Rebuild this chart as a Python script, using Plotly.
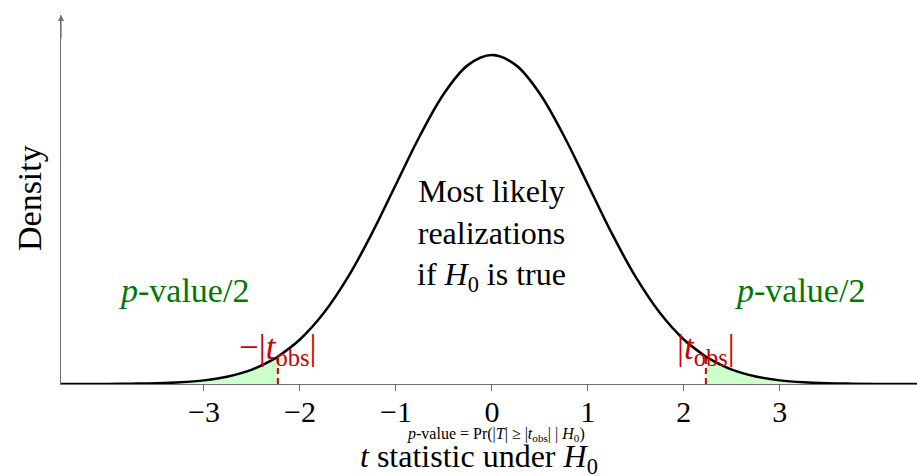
import plotly.graph_objects as go

# ---- data ----
x_vals = [-4.5, -4.25, -4.0, -3.75, -3.5, -3.25, -3.0, -2.75, -2.5, -2.25, -2.23,
          -2.0, -1.75, -1.5, -1.25, -1.0, -0.75, -0.5, -0.25, 0.0,
          0.25, 0.5, 0.75, 1.0, 1.25, 1.5, 1.75, 2.0, 2.23, 2.25, 2.5, 2.75,
          3.0, 3.25, 3.5, 3.75, 4.0, 4.25, 4.5]
density = [0.00002, 0.00005, 0.0001, 0.0004, 0.0009, 0.0020, 0.0044, 0.0091, 0.0175, 0.0317, 0.0332,
           0.0540, 0.0863, 0.1295, 0.1826, 0.2420, 0.3011, 0.3521, 0.3867, 0.3989,
           0.3867, 0.3521, 0.3011, 0.2420, 0.1826, 0.1295, 0.0863, 0.0540, 0.0332, 0.0317, 0.0175, 0.0091,
           0.0044, 0.0020, 0.0009, 0.0004, 0.0001, 0.00005, 0.00002]
t_obs = 2.23
tick_vals = [-3, -2, -1, 0, 1, 2, 3]
tick_text = ["\u22123", "\u22122", "\u22121", "0", "1", "2", "3"]

FONT = "Liberation Serif"
RED = "rgb(204,0,0)"
GREEN = "rgb(0,120,0)"
AXIS = "rgb(110,110,110)"

d_obs = density[x_vals.index(t_obs)]

left_x = [x for x in x_vals if x <= -t_obs]
left_y = [d for x, d in zip(x_vals, density) if x <= -t_obs]
right_x = [x for x in x_vals if x >= t_obs]
right_y = [d for x, d in zip(x_vals, density) if x >= t_obs]

fig = go.Figure()
for xs, ys in [(left_x, left_y), (right_x, right_y)]:
    fig.add_trace(go.Scatter(x=xs, y=ys, mode="lines", fill="tozeroy",
                             fillcolor="rgb(204,255,204)",
                             line=dict(width=0, shape="spline"), hoverinfo="skip"))
for s in (-1, 1):
    fig.add_trace(go.Scatter(x=[s * t_obs, s * t_obs], y=[0, d_obs], mode="lines",
                             line=dict(color=RED, width=2, dash="6px,4px"), hoverinfo="skip"))
fig.add_trace(go.Scatter(x=x_vals, y=density, mode="lines",
                         line=dict(color="black", width=2.5, shape="spline")))

C = dict(xanchor="center", yanchor="middle", showarrow=False)
ann = []
ann.append(dict(x=-t_obs, y=0.0424, xref="x", yref="y",
                text="\u2212|<i>t</i><sub>obs</sub>|", font=dict(family=FONT, size=35, color=RED), **C))
ann.append(dict(x=t_obs, y=0.0424, xref="x", yref="y",
                text="|<i>t</i><sub>obs</sub>|", font=dict(family=FONT, size=35, color=RED), **C))
for s in (-1, 1):
    ann.append(dict(x=s * 3.21, y=0.114, xref="x", yref="y",
                    text="<i>p</i>-value/2", font=dict(family=FONT, size=34, color=GREEN), **C))
ann.append(dict(x=0, y=0.181, xref="x", yref="y",
                text="Most likely<br>realizations<br>if <i>H</i><sub>0</sub> is true",
                font=dict(family=FONT, size=32, color="black"), **C))
ann.append(dict(x=-0.0374, y=0.504, xref="paper", yref="paper",
                text="Density", textangle=-90, font=dict(family=FONT, size=34, color="black"), **C))
ann.append(dict(x=-0.135, y=-0.203, xref="x", yref="paper",
                text="<i>t</i> statistic under <i>H</i><sub>0</sub>",
                font=dict(family=FONT, size=32, color="black"), **C))
ann.append(dict(x=0.04, y=-0.138, xref="x", yref="paper",
                text="<i>p</i>-value = Pr(|<i>T</i>| \u2265 |<i>t</i><sub>obs</sub>| | <i>H</i><sub>0</sub>)",
                font=dict(family=FONT, size=16, color="black"), **C))
ann.append(dict(x=0, y=1, xref="paper", yref="paper", ax=0, ay=25, text="",
                showarrow=True, arrowhead=2, arrowsize=1, arrowwidth=1.2, arrowcolor=AXIS))

fig.update_layout(
    width=917, height=476,
    margin=dict(l=61, r=0, t=15, b=92),
    paper_bgcolor="white", plot_bgcolor="white",
    showlegend=False,
    annotations=ann,
    xaxis=dict(range=[-4.49, 4.43], showgrid=False, zeroline=False,
               showline=True, linecolor=AXIS, linewidth=1.3,
               ticks="outside", ticklen=6, tickcolor=AXIS, tickwidth=1,
               tickvals=tick_vals, ticktext=tick_text, ticklabelstandoff=-5,
               tickfont=dict(family=FONT, size=30, color="black")),
    yaxis=dict(range=[0, 0.4475], showgrid=False, zeroline=False,
               showline=True, linecolor=AXIS, linewidth=1.3,
               showticklabels=False, ticks=""),
)

fig.write_html("out.html", config={"displayModeBar": False},
               post_script="document.body.style.margin='0';document.body.style.overflow='hidden';")
